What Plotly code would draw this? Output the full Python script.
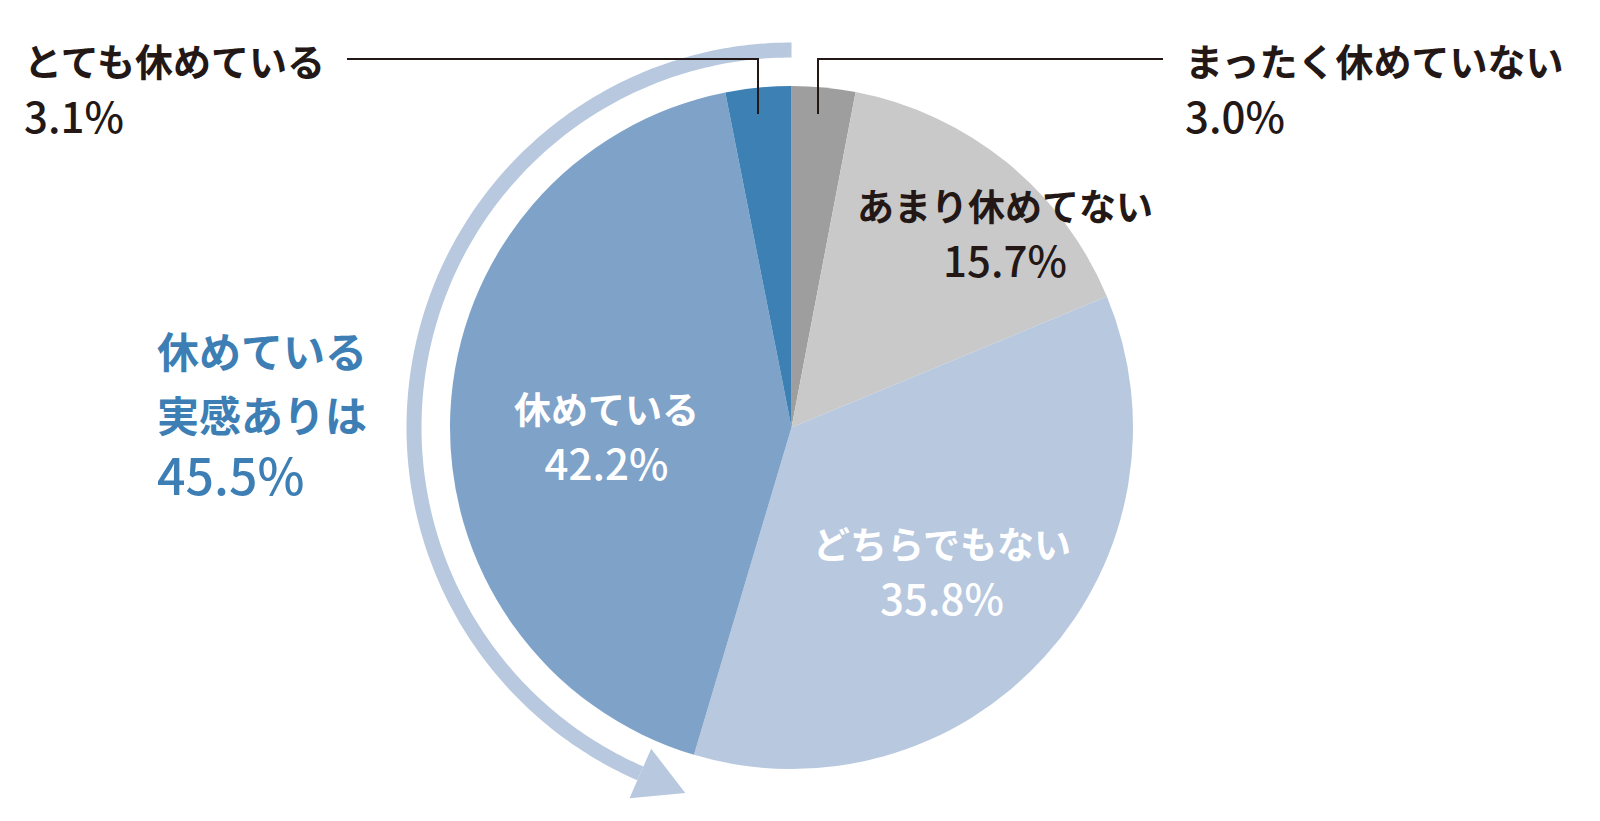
import numpy as np
import plotly.graph_objects as go

# slices, clockwise from 12 o'clock
labels = ["まったく休めていない", "あまり休めてない", "どちらでもない", "休めている", "とても休めている"]
values = [3.0, 15.7, 35.8, 42.2, 3.1]
colors = ["#9e9e9e", "#c9c9c9", "#b7c8df", "#7fa2c8", "#3d81b4"]
pct_text = ["3.0%", "15.7%", "35.8%", "42.2%", "3.1%"]
summary_lines = ["休めている", "実感ありは", "45.5%"]

W, H = 1600, 821
CX, CY, R = 791.5, 427.5, 341.5          # pie centre / radius in px
JP = "Noto Sans CJK JP"
INK = "#231815"
BLUE = "#3d7fb5"

fig = go.Figure()
fig.add_trace(go.Pie(
    labels=labels, values=values, sort=False, direction="clockwise", rotation=0,
    marker=dict(colors=colors, line=dict(width=0)), textinfo="none", hoverinfo="label+value",
    domain=dict(x=[(CX - R) / W, (CX + R) / W], y=[(H - CY - R) / H, (H - CY + R) / H]),
    showlegend=False))

# curved arrow round the "rested" side (px coords on a hidden axis)
r_out, r_in = 385, 370
th = np.radians(np.linspace(0, -156.4, 200))
ax_ = np.concatenate([CX + r_out * np.sin(th), CX + r_in * np.sin(th[::-1])])
ay_ = np.concatenate([CY - r_out * np.cos(th), CY - r_in * np.cos(th[::-1])])
fig.add_trace(go.Scatter(x=ax_, y=ay_, fill="toself", fillcolor="#b7c8df", mode="none",
                         hoverinfo="skip", showlegend=False))
t0 = np.radians(-156.4)
rm = (r_out + r_in) / 2
bx, by = CX + rm * np.sin(t0), CY - rm * np.cos(t0)
tang = np.array([-np.cos(t0), -np.sin(t0)])
rad = np.array([np.sin(t0), -np.cos(t0)])
hx = [bx + 27 * rad[0], bx + 49 * tang[0], bx - 27 * rad[0]]
hy = [by + 27 * rad[1], by + 49 * tang[1], by - 27 * rad[1]]
fig.add_trace(go.Scatter(x=hx, y=hy, fill="toself", fillcolor="#b7c8df", mode="none",
                         hoverinfo="skip", showlegend=False))

# leader lines for the two thin slices
fig.add_shape(type="path", path="M 347 59 L 758 59 L 758 114", xref="x", yref="y",
              line=dict(color=INK, width=2))
fig.add_shape(type="path", path="M 818 114 L 818 59 L 1163 59", xref="x", yref="y",
              line=dict(color=INK, width=2))


def span(txt, size, weight):
    return f"<span style='font-size:{size}px;font-weight:{weight}'>{txt}</span>"


def note(lines, x, y, base, color, anchor="center"):
    # lines: list of (text, size, weight); line pitch = 1.3 * base
    text = "<br>".join(span(t, s, w) for t, s, w in lines)
    fig.add_annotation(x=x, y=y, xref="x", yref="y", text=text, showarrow=False,
                       xanchor=anchor, yanchor="middle", align=anchor,
                       font=dict(family=JP, size=base, color=color))


# outside labels (label + share)
note([(labels[4], 38, 700), (pct_text[4], 42, 500)], 22, 88, 44, INK, "left")
note([(labels[0], 38, 700), (pct_text[0], 42, 500)], 1183, 88, 44, INK, "left")
# inside labels
note([(labels[1], 37, 700), (pct_text[1], 42, 500)], 1005, 233, 43, INK)
note([(labels[2], 37, 700), (pct_text[2], 42, 500)], 942, 571, 43, "white")
note([(labels[3], 37, 700), (pct_text[3], 42, 500)], 606, 436, 43, "white")
# summary of the two "rested" answers
note([(summary_lines[0], 42, 700), (summary_lines[1], 42, 700), (summary_lines[2], 50, 500)],
     155, 414, 49, BLUE, "left")

fig.update_layout(
    width=W, height=H, margin=dict(l=0, r=0, t=0, b=0),
    paper_bgcolor="white", plot_bgcolor="rgba(0,0,0,0)",
    xaxis=dict(range=[0, W], visible=False, fixedrange=True),
    yaxis=dict(range=[H, 0], visible=False, fixedrange=True),
)
# drop the browser's default 8px body margin so the figure sits at the window corner
fig.write_html("out.html", config={"displayModeBar": False},
               post_script="document.body.style.margin='0';")
